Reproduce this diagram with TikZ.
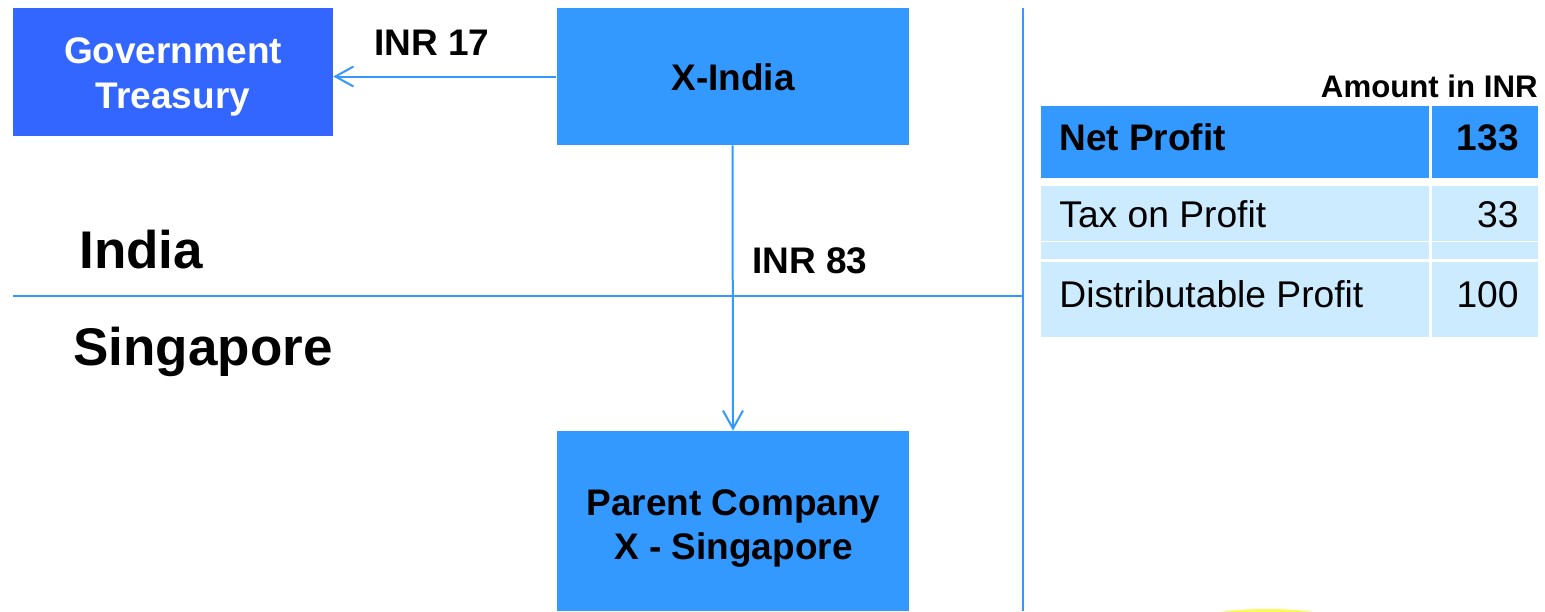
\documentclass[tikz,border=0pt]{standalone}
\usepackage{fontspec}
\setmainfont{Liberation Sans}
\usetikzlibrary{arrows.meta}
\definecolor{govblue}{RGB}{51,102,255}
\definecolor{midblue}{RGB}{51,153,255}
\definecolor{paleblue}{RGB}{204,235,255}
\definecolor{sliver}{RGB}{255,250,90}
\begin{document}
\begin{tikzpicture}[x=0.5pt,y=-0.5pt,
  box/.style={rectangle, draw=none, inner sep=0pt},
  cell/.style={rectangle, draw=none, inner sep=0pt},
  lbl/.style={inner sep=0pt, font=\bfseries\fontsize{18.5}{22}\selectfont},
  region/.style={inner sep=0pt, font=\bfseries\fontsize{26.5}{30}\selectfont},
  cellb/.style={inner sep=0pt, font=\bfseries\fontsize{18.5}{22}\selectfont},
  cellr/.style={inner sep=0pt, font=\fontsize{18.6}{22}\selectfont},
  note/.style={inner sep=0pt, font=\bfseries\fontsize{15.6}{18}\selectfont},
  conn/.style={draw=midblue, line width=1pt, -{Straight Barb[length=9pt,width=10pt,line width=1pt]}},
  divider/.style={draw=midblue, line width=1pt}]
\useasboundingbox (0,0) rectangle (1545,611);
\fill[white] (0,0) rectangle (1545,611);

% boxes
\node[box, fill=govblue, minimum width=160pt, minimum height=64pt] (gov) at (173,72) {};
\node[box, fill=midblue, minimum width=176pt, minimum height=68.5pt] (xin) at (732.5,76.5) {};
\node[box, fill=midblue, minimum width=176pt, minimum height=90pt] (par) at (733,521) {};

% box texts
\node[lbl, text=white, anchor=base] (govt1) at (173,63) {Government};
\node[lbl, text=white, anchor=base] (govt2) at (173,108) {Treasury};
\node[lbl, anchor=base] (xint) at (733,90) {X-India};
\node[lbl, anchor=base] (part1) at (733.5,515) {Parent Company};
\node[lbl, anchor=base] (part2) at (733.5,559) {X - Singapore};

% connectors
\draw[conn] (xin.west) -- (gov.east |- xin.west);
\draw[conn] (xin.south) -- (par.north);
\node[lbl, anchor=base west] (inr17) at (374,55) {INR 17};
\node[lbl, anchor=base west] (inr83) at (752,273) {INR 83};

% dividers
\coordinate (hl) at (13,296);
\coordinate (hr) at (1023,296);
\coordinate (vt) at (1023,8);
\coordinate (vb) at (1023,611);
\draw[divider] (hl) -- (hr);
\draw[divider] (vt) -- (vb);

% region labels
\node[region, anchor=base west] (india) at (79,268) {India};
\node[region, anchor=base west] (sing) at (73,365) {Singapore};

% table
\node[note, anchor=base east] (amt) at (1538,97) {Amount in INR};
\node[cell, fill=midblue, minimum width=194pt, minimum height=36pt] (r1a) at (1235,142) {};
\node[cell, fill=midblue, minimum width=53pt, minimum height=36pt] (r1b) at (1485,142) {};
\node[cell, fill=paleblue, minimum width=194pt, minimum height=27.5pt] (r2a) at (1235,213.5) {};
\node[cell, fill=paleblue, minimum width=53pt, minimum height=27.5pt] (r2b) at (1485,213.5) {};
\node[cell, fill=paleblue, minimum width=194pt, minimum height=8.5pt] (r3a) at (1235,250.5) {};
\node[cell, fill=paleblue, minimum width=53pt, minimum height=8.5pt] (r3b) at (1485,250.5) {};
\node[cell, fill=paleblue, minimum width=194pt, minimum height=37.5pt] (r4a) at (1235,299.5) {};
\node[cell, fill=paleblue, minimum width=53pt, minimum height=37.5pt] (r4b) at (1485,299.5) {};

\node[cellb, anchor=base west] (np) at (1059,150) {Net Profit};
\node[cellb, anchor=base east] (npv) at (1519,150) {133};
\node[cellr, anchor=base west] (tp) at (1059,227) {Tax on Profit};
\node[cellr, anchor=base east] (tpv) at (1519,227) {33};
\node[cellr, anchor=base west] (dp) at (1059,307) {Distributable Profit};
\node[cellr, anchor=base east] (dpv) at (1519,307) {100};

% faint yellow sliver at bottom edge
\fill[sliver] (1267,616) ellipse [x radius=56, y radius=7];
\end{tikzpicture}
\end{document}
